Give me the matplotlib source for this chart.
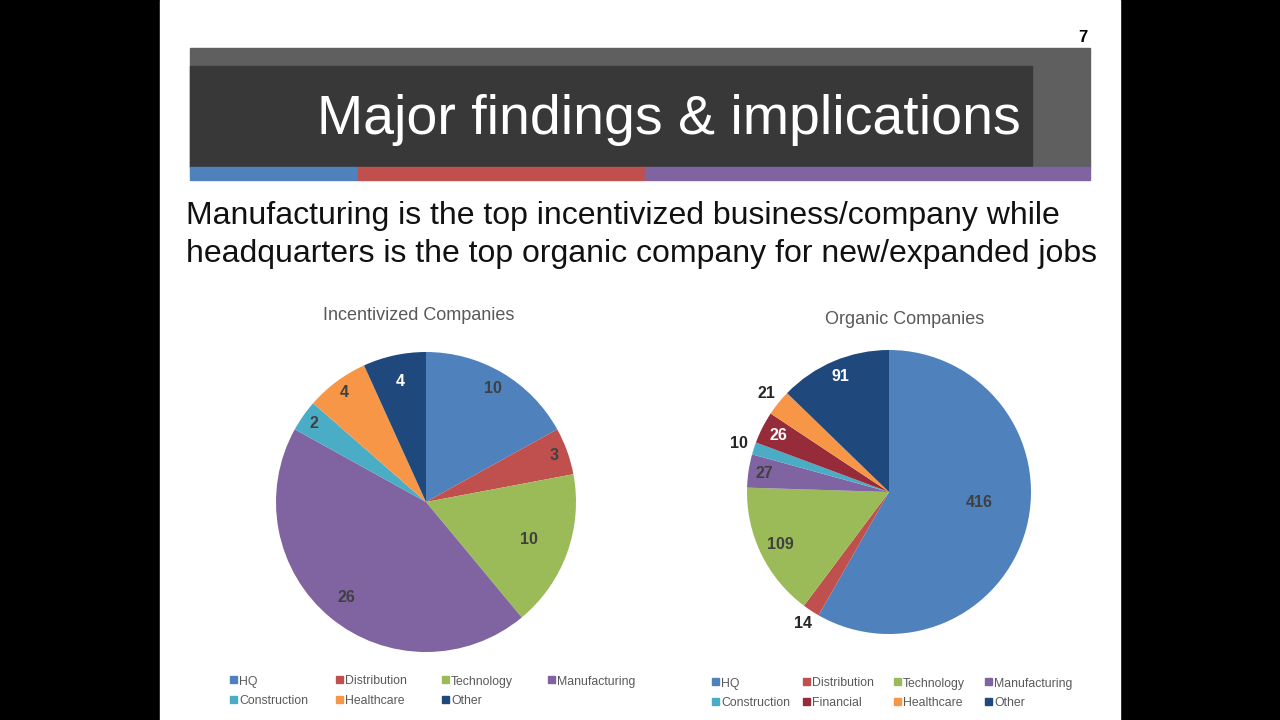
import numpy as np
import matplotlib.pyplot as plt
from matplotlib.patches import Rectangle

plt.rcParams['font.family'] = ['Liberation Sans', 'DejaVu Sans']

# data
inc_labels = ['HQ', 'Distribution', 'Technology', 'Manufacturing', 'Construction', 'Healthcare', 'Other']
inc_values = [10, 3, 10, 26, 2, 4, 4]
org_labels = ['HQ', 'Distribution', 'Technology', 'Manufacturing', 'Construction', 'Financial', 'Healthcare', 'Other']
org_values = [416, 14, 109, 27, 10, 26, 21, 91]

colors = {'HQ': '#4F81BD', 'Distribution': '#C0504D', 'Technology': '#9BBB59',
          'Manufacturing': '#8064A2', 'Construction': '#4BACC6', 'Healthcare': '#F79646',
          'Other': '#1F497D', 'Financial': '#962B3A'}

# label placement (radius fraction, angle nudge in degrees, colour)
inc_lab_r = [0.88, 0.91, 0.73, 0.83, 0.91, 0.91, 0.82]
inc_lab_da = [0, 0, 0, 0, 0, 0, 0]
inc_lab_c = ['#404040'] * 6 + ['white']
org_lab_r = [0.64, 1.11, 0.85, 0.89, 1.11, 0.87, 1.11, 0.88]
org_lab_da = [8.5, 0, 0, 0, 0, 0, 0, 0]
org_lab_c = ['#404040', '#262626', '#404040', '#404040', '#262626', 'white', '#262626', 'white']

W, H = 1280, 720
fig = plt.figure(figsize=(12.8, 7.2), dpi=100)
fig.patch.set_facecolor('black')

def px_axes(x, y, w, h):
    # pixel box (top-left origin) -> figure axes
    return fig.add_axes([x / W, 1 - (y + h) / H, w / W, h / H])

# slide background and header
bg = px_axes(0, 0, W, H)
bg.set_xlim(0, W)
bg.set_ylim(H, 0)
bg.axis('off')
bg.add_patch(Rectangle((160, 0), 960, 720, color='white'))
bg.add_patch(Rectangle((190, 48), 900, 120, color='#5f5f5f'))
bg.add_patch(Rectangle((190, 66), 842, 101, color='#383838'))
bg.add_patch(Rectangle((190, 167), 168, 13, color='#4F81BD'))
bg.add_patch(Rectangle((358, 167), 287, 13, color='#C0504D'))
bg.add_patch(Rectangle((645, 167), 445, 13, color='#8064A2'))
bg.text(1083, 37, '7', fontsize=12, fontweight='bold', ha='center', va='center', color='black')
bg.text(1021, 120, 'Major findings & implications', fontsize=40, color='white',
        ha='right', va='center', family=['Liberation Sans Narrow', 'Liberation Sans'])
bg.text(186, 216, 'Manufacturing is the top incentivized business/company while',
        fontsize=23, color='#111111', ha='left', va='center')
bg.text(186, 254, 'headquarters is the top organic company for new/expanded jobs',
        fontsize=23, color='#111111', ha='left', va='center')
bg.text(419, 315, 'Incentivized Companies', fontsize=13, color='#595959', ha='center', va='center')
bg.text(905, 320, 'Organic Companies', fontsize=13, color='#595959', ha='center', va='center')


def draw_pie(cx, cy, r, labels, values, lab_r, lab_da, lab_c):
    ax = px_axes(cx - r, cy - r, 2 * r, 2 * r)
    cols = [colors[l] for l in labels]
    wedges, _ = ax.pie(values, colors=cols, startangle=90, counterclock=False,
                       wedgeprops=dict(linewidth=0.5, edgecolor='none'))
    for w, v, rr, da, c in zip(wedges, values, lab_r, lab_da, lab_c):
        ang = np.deg2rad((w.theta1 + w.theta2) / 2 + da)
        ax.text(rr * np.cos(ang), rr * np.sin(ang), str(v), ha='center', va='center',
                fontsize=11.5, fontweight='bold', color=c)
    ax.set_xlim(-1, 1)
    ax.set_ylim(-1, 1)
    ax.set_aspect('equal')
    ax.axis('off')


draw_pie(426, 502, 150, inc_labels, inc_values, inc_lab_r, inc_lab_da, inc_lab_c)
draw_pie(889, 492, 142, org_labels, org_values, org_lab_r, org_lab_da, org_lab_c)


def draw_legend(x0, y0, dx, labels):
    for i, lab in enumerate(labels):
        x = x0 + (i % 4) * dx
        y = y0 + (i // 4) * 20
        bg.add_patch(Rectangle((x - 3.5, y - 4.5), 7, 7, color=colors[lab]))
        bg.text(x + 6, y, lab, fontsize=8.8, color='#595959', ha='left', va='center_baseline')


draw_legend(233, 680, 106, inc_labels)
draw_legend(715, 682, 91, org_labels)

fig.savefig('out.png', dpi=100, facecolor=fig.get_facecolor())
